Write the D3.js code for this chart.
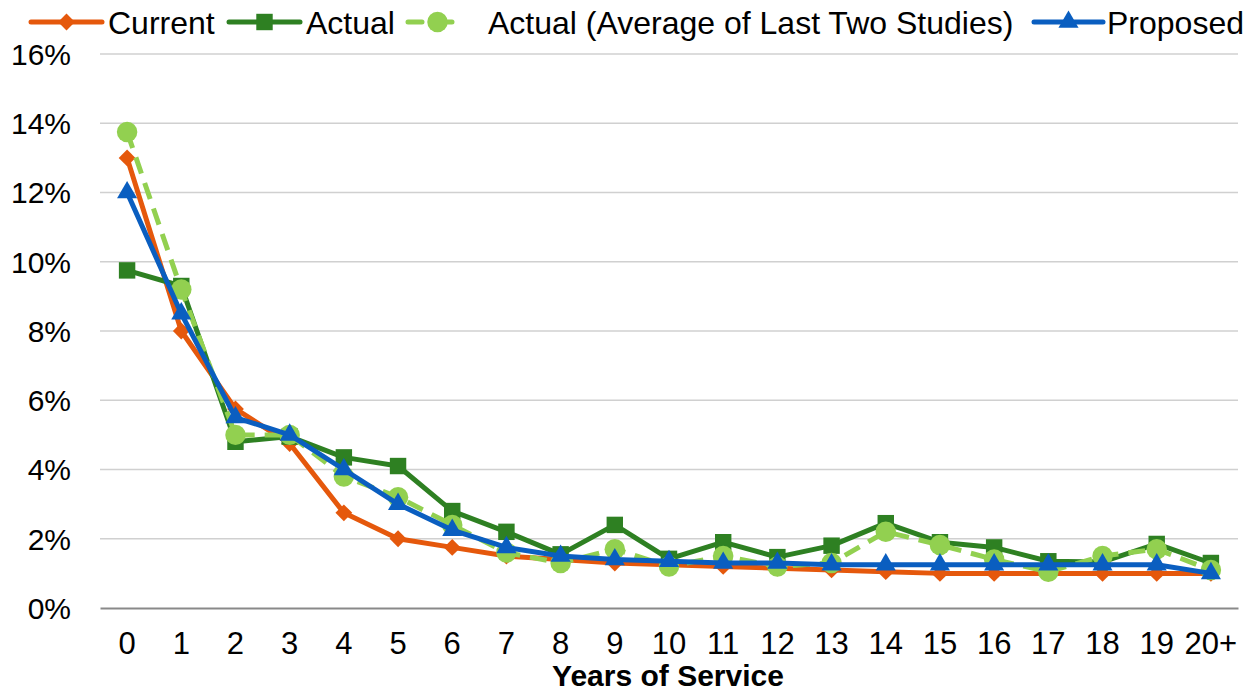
<!DOCTYPE html>
<html>
<head>
<style>
  body { margin: 0; background: #fff; }
  text { font-family: "Liberation Sans", Arial, sans-serif; }
</style>
</head>
<body>
<svg width="1253" height="693"></svg>
<script src="https://d3js.org/d3.v7.min.js"></script>
<script>
const years = ["0","1","2","3","4","5","6","7","8","9","10","11","12","13","14","15","16","17","18","19","20+"];
const yTicks = [0, 2, 4, 6, 8, 10, 12, 14, 16];

const current  = [13.0, 8.0, 5.75, 4.75, 2.75, 2.0, 1.75, 1.5, 1.4, 1.3, 1.25, 1.2, 1.15, 1.1, 1.05, 1.0, 1.0, 1.0, 1.0, 1.0, 1.0];
const actual   = [9.75, 9.3, 4.8, 4.95, 4.35, 4.1, 2.8, 2.2, 1.55, 2.4, 1.42, 1.9, 1.47, 1.8, 2.45, 1.9, 1.75, 1.35, 1.33, 1.85, 1.3];
const actualAvg = [13.75, 9.2, 5.0, 5.0, 3.8, 3.2, 2.4, 1.6, 1.3, 1.7, 1.2, 1.5, 1.2, 1.3, 2.2, 1.82, 1.4, 1.05, 1.5, 1.7, 1.1];
const proposed = [12.0, 8.5, 5.5, 5.0, 4.0, 3.0, 2.25, 1.75, 1.5, 1.4, 1.35, 1.3, 1.3, 1.25, 1.25, 1.25, 1.25, 1.25, 1.25, 1.25, 1.0];

const series = [
  { name: "Current", values: current, color: "#E5580C", symbol: d3.symbolDiamond2, size: 180, dash: null },
  { name: "Actual", values: actual, color: "#2E8022", symbol: d3.symbolSquare, size: 270, dash: null },
  { name: "Actual (Average of Last Two Studies)", values: actualAvg, color: "#92D050", symbol: d3.symbolCircle, size: 330, dash: "17,10" },
  { name: "Proposed", values: proposed, color: "#0A5EC0", symbol: d3.symbolTriangle, size: 175, dash: null }
];

const svg = d3.select("svg");
const plotL = 100, plotR = 1238, plotT = 54, plotB = 608;

const x = d3.scaleBand().domain(years).range([plotL, plotR]);
const y = d3.scaleLinear().domain([0, 16]).range([plotB, plotT]);

// gridlines
svg.append("g")
  .selectAll("line")
  .data(yTicks.filter(d => d > 0))
  .enter().append("line")
  .attr("x1", plotL).attr("x2", plotR)
  .attr("y1", d => y(d)).attr("y2", d => y(d))
  .attr("stroke", "#d0d0d0").attr("stroke-width", 1.3);

// y axis labels
svg.append("g")
  .selectAll("text")
  .data(yTicks)
  .enter().append("text")
  .attr("x", 71).attr("y", d => y(d))
  .attr("dy", "0.36em")
  .attr("text-anchor", "end")
  .attr("font-size", 30)
  .text(d => d + "%");

// x axis
const xAxis = svg.append("g")
  .attr("transform", "translate(0," + plotB + ")")
  .call(d3.axisBottom(x).tickSize(0).tickPadding(24));
xAxis.select(".domain").attr("stroke", "#898989").attr("stroke-width", 2);
xAxis.selectAll("text").attr("font-size", 31).attr("fill", "#000")
  .style("font-family", "'Liberation Sans', Arial, sans-serif");

svg.append("text")
  .attr("x", (plotL + plotR) / 2 - 1).attr("y", 686)
  .attr("text-anchor", "middle")
  .attr("font-size", 30).attr("font-weight", "bold")
  .text("Years of Service");

const line = d3.line()
  .x((d, i) => x(years[i]) + x.bandwidth() / 2)
  .y(d => y(d));

series.forEach(s => {
  const g = svg.append("g");
  g.append("path")
    .attr("d", line(s.values))
    .attr("fill", "none")
    .attr("stroke", s.color)
    .attr("stroke-width", 5)
    .attr("stroke-linejoin", "round")
    .attr("stroke-dasharray", s.dash);
  g.selectAll("path.m")
    .data(s.values)
    .enter().append("path")
    .attr("class", "m")
    .attr("transform", (d, i) => "translate(" + (x(years[i]) + x.bandwidth() / 2) + "," + y(d) + ")")
    .attr("d", d3.symbol().type(s.symbol).size(s.size))
    .attr("fill", s.color);
});

// legend
const legendItems = [
  { x1: 31, x2: 102, tx: 108 },
  { x1: 229, x2: 300, tx: 306 },
  { x1: 408, x2: 467, tx: 488 },
  { x1: 1034, x2: 1103, tx: 1107 }
];
const ly = 22;
series.forEach((s, i) => {
  const p = legendItems[i];
  const g = svg.append("g");
  g.append("line")
    .attr("x1", p.x1).attr("x2", p.x2).attr("y1", ly).attr("y2", ly)
    .attr("stroke", s.color).attr("stroke-width", 5)
    .attr("stroke-linecap", "round")
    .attr("stroke-dasharray", s.dash ? "14,16" : null);
  g.append("path")
    .attr("transform", "translate(" + (p.x1 + p.x2) / 2 + "," + ly + ")")
    .attr("d", d3.symbol().type(s.symbol).size(s.size))
    .attr("fill", s.color);
  g.append("text")
    .attr("x", p.tx).attr("y", ly).attr("dy", "0.36em")
    .attr("font-size", 32)
    .text(s.name);
});
</script>
</body>
</html>
